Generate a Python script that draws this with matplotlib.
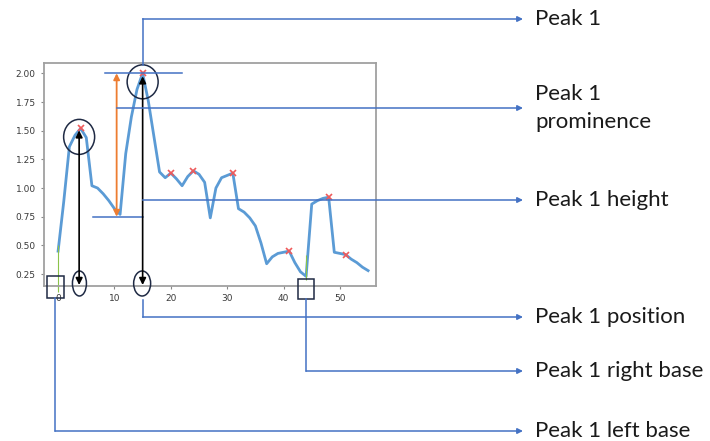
import matplotlib
matplotlib.use("Agg")
import matplotlib.pyplot as plt
from matplotlib.patches import Ellipse, Rectangle

# signal
x = list(range(56))
y = [0.45, 0.88, 1.36, 1.46, 1.52, 1.44, 1.02, 1.00, 0.95, 0.89,
     0.82, 0.77, 1.30, 1.62, 1.86, 2.00, 1.76, 1.45, 1.14, 1.09,
     1.13, 1.08, 1.02, 1.10, 1.15, 1.12, 1.05, 0.74, 1.00, 1.09,
     1.11, 1.13, 0.82, 0.79, 0.74, 0.67, 0.52, 0.34, 0.40, 0.43,
     0.44, 0.45, 0.35, 0.27, 0.23, 0.86, 0.89, 0.91, 0.92, 0.44,
     0.43, 0.42, 0.38, 0.35, 0.31, 0.28]
peaks = [4, 15, 20, 24, 31, 41, 48, 51]
main_peak = 15
other_peak = 4
contour = 0.75
left_base = 0
right_base = 44

labels = ["Peak 1", "Peak 1\nprominence", "Peak 1 height", "Peak 1 position",
          "Peak 1 right base", "Peak 1 left base"]

W, H = 710, 441
BLUE = "#4472c4"
fig = plt.figure(figsize=(W / 100, H / 100), dpi=100)
fig.patch.set_facecolor("white")

ax = fig.add_axes([44 / W, (H - 286) / H, (376 - 44) / W, (286 - 63) / H])
ax.plot(x, y, color="#5b9bd5", lw=2)
ax.plot(peaks, [y[i] for i in peaks], "x", color="#f05a5a", ms=5, mew=1.2)
ax.vlines(left_base, 0.09, 0.5, color="#8bc34a", lw=0.8, clip_on=False)
ax.vlines(right_base, 0.2, 0.42, color="#8bc34a", lw=0.8)
ax.set_xlim(-2.5, 56.4)
ax.set_ylim(0.146, 2.09)
ax.set_xticks(range(0, 51, 10))
ax.set_yticks([0.25, 0.5, 0.75, 1.0, 1.25, 1.5, 1.75, 2.0])
ax.set_yticklabels([f"{v:.2f}" for v in ax.get_yticks()])
ax.tick_params(labelsize=6.5, colors="#888888", labelcolor="#3a3a3a", length=2.5, width=0.8)
for s in ax.spines.values():
    s.set_color("#a0a0a0")
    s.set_linewidth(1.3)

# overlay in pixel units for the annotation diagram
ov = fig.add_axes([0, 0, 1, 1], zorder=5)
ov.set_xlim(0, W)
ov.set_ylim(H, 0)
ov.axis("off")
ov.patch.set_alpha(0)


def px(xv, yv):
    d = ax.transData.transform((xv, yv))
    return d[0], H - d[1]


def arrow(x0, y0, x1, y1, style, color, lw=1.1, ms=8):
    ov.annotate("", xy=(x1, y1), xytext=(x0, y0),
                arrowprops=dict(arrowstyle=style, color=color, lw=lw,
                                mutation_scale=ms, shrinkA=0, shrinkB=0))


p1x, p1y = px(main_peak, y[main_peak])
p2x, p2y = px(other_peak, y[other_peak])
_, cy = px(main_peak, contour)
_, bottom = px(0, 0.146)
lbx = px(left_base, 0)[0] - 3
rbx = px(right_base, 0)[0]
ox = p1x - 26

label_y = [19, 108, 200, 317, 371, 431]
tip = 523
for t, ly in zip(labels, label_y):
    ov.text(535, ly, t, fontsize=16, family="Lato", color="#1a1a1a",
            va="center", ha="left", linespacing=1.5)

# circles, ellipses and boxes around the marked points
ov.add_patch(Ellipse((p1x, p1y + 8.5), 31, 34, fill=False, ec="#1f2a44", lw=1.1))
ov.add_patch(Ellipse((p2x - 1.5, p2y + 8.5), 31, 35, fill=False, ec="#1f2a44", lw=1.1))
ov.add_patch(Ellipse((p1x - 0.5, 283.5), 17, 25, fill=False, ec="#1f2a44", lw=1.1))
ov.add_patch(Ellipse((p2x - 1.2, 283.5), 14, 25, fill=False, ec="#1f2a44", lw=1.1))
ov.add_patch(Rectangle((lbx - 8.5, 276), 17, 22, fill=False, ec="#1f2a44", lw=1.1))
ov.add_patch(Rectangle((rbx - 8.3, 279), 16.6, 20, fill=False, ec="#1f2a44", lw=1.1))

# black double arrows peak -> axis
arrow(p1x, bottom - 1, p1x, p1y + 3, "<|-|>", "black", lw=1.2, ms=10)
arrow(p2x - 1.5, bottom - 1, p2x - 1.5, p2y + 2, "<|-|>", "black", lw=1.2, ms=10)

# prominence (orange) and reference lines
arrow(ox, cy, ox, p1y, "<|-|>", "#ed7d31", lw=1.3, ms=9)
ov.plot([p1x - 37.5, p1x + 39.5], [p1y, p1y], color=BLUE, lw=1.1)
ov.plot([p1x - 49.5, p1x], [cy, cy], color=BLUE, lw=1.1)

# connectors to the labels
ov.plot([p1x, p1x], [p1y - 8.5, label_y[0]], color=BLUE, lw=1.1)
arrow(p1x, label_y[0], tip, label_y[0], "-|>", BLUE)
arrow(ox, label_y[1], tip, label_y[1], "-|>", BLUE)
arrow(p1x, label_y[2], tip, label_y[2], "-|>", BLUE)
ov.plot([p1x, p1x], [300, label_y[3]], color=BLUE, lw=1.1)
arrow(p1x, label_y[3], tip, label_y[3], "-|>", BLUE)
ov.plot([rbx, rbx], [299, label_y[4]], color=BLUE, lw=1.1)
arrow(rbx, label_y[4], tip, label_y[4], "-|>", BLUE)
ov.plot([lbx, lbx], [298, label_y[5]], color=BLUE, lw=1.1)
arrow(lbx, label_y[5], tip, label_y[5], "-|>", BLUE)

fig.savefig("out.png", dpi=100)
